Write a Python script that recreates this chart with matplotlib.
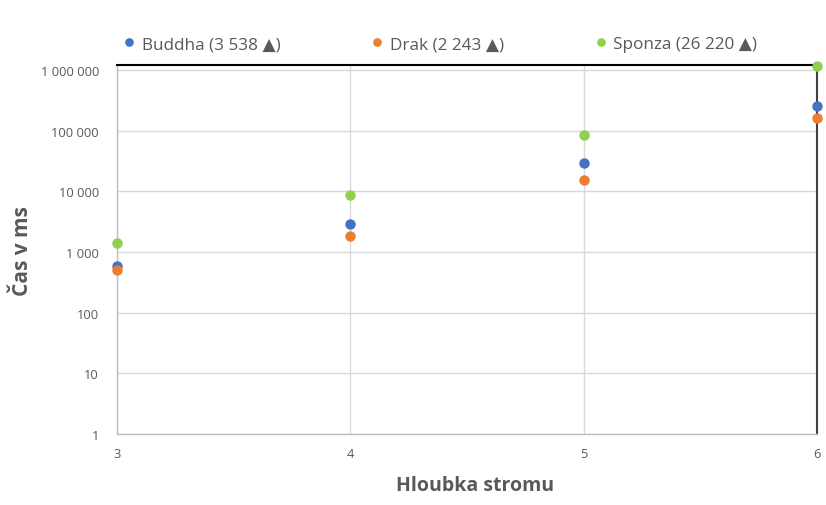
import matplotlib
matplotlib.use('Agg')
import matplotlib.pyplot as plt
from matplotlib.ticker import FuncFormatter, FixedLocator

# tree depth on the x axis
depths = [3, 4, 5, 6]

# time in ms per model
buddha = [594, 2890, 29000, 252000]
drak = [497, 1860, 15300, 161000]
sponza = [1390, 8790, 85700, 1150000]

labels = ['Buddha (3 538 \u25B2)', 'Drak (2 243 \u25B2)', 'Sponza (26 220 \u25B2)']
colors = ['#4472C4', '#ED7D31', '#8FD14F']

y_ticks = [1, 10, 100, 1000, 10000, 100000, 1000000]

plt.rcParams['font.family'] = ['Open Sans', 'DejaVu Sans']

fig = plt.figure(figsize=(8.26, 5.06), dpi=100)
ax = fig.add_axes([0.1416, 0.1403, 0.8474, 0.7287])

for series, label, color in zip([buddha, drak, sponza], labels, colors):
    ax.plot(depths, series, 'o', color=color, markersize=6.5, label=label,
            clip_on=False, zorder=3)

ax.set_yscale('log')
ax.set_ylim(1, 1.195e6)
ax.set_xlim(3, 6)

ax.yaxis.set_major_locator(FixedLocator(y_ticks))
ax.yaxis.set_minor_locator(FixedLocator([]))
ax.yaxis.set_major_formatter(
    FuncFormatter(lambda v, _: f'{v:,.0f}'.replace(',', ' '))
)
ax.set_xticks(depths)

ax.grid(True, color='#d9d9d9', linewidth=1)
ax.set_axisbelow(True)
ax.tick_params(length=0, labelsize=9.3, labelcolor='#595959')
ax.tick_params(axis='x', pad=9)
ax.tick_params(axis='y', pad=13)

for side in ['left', 'bottom']:
    ax.spines[side].set_color('#bfbfbf')
    ax.spines[side].set_linewidth(1)
ax.spines['top'].set_color('#000000')
ax.spines['top'].set_linewidth(1.5)
ax.spines['right'].set_color('#404040')
ax.spines['right'].set_linewidth(1.5)

ax.set_xlabel('Hloubka stromu', fontsize=14, fontweight='bold',
              color='#595959')
ax.xaxis.set_label_coords(0.511, -0.111)
ax.set_ylabel('Čas v ms', fontsize=15, fontweight='bold',
              color='#595959')
ax.yaxis.set_label_coords(-0.12, 0.5)

fig.legend(loc='center', bbox_to_anchor=(0.532, 0.911), ncol=3,
           frameon=False, fontsize=12.3, columnspacing=5.2,
           handletextpad=0.3, handlelength=0.9, markerscale=0.8,
           labelcolor='#595959')

fig.savefig('out.png', dpi=100)
